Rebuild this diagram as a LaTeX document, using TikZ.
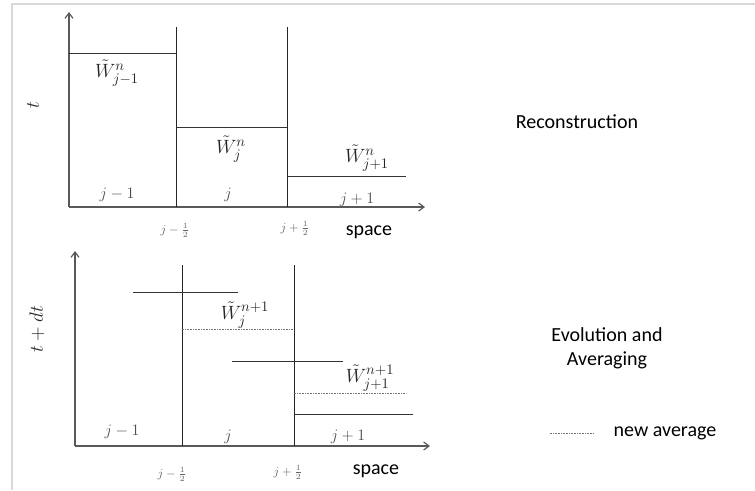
\documentclass[tikz,border=0pt]{standalone}
\usepackage{amsmath, amssymb}
\usepackage{fontspec}
\setmainfont{Carlito}
\usetikzlibrary{positioning, arrows.meta}

\begin{document}
\begin{tikzpicture}[x=0.75pt, y=-0.75pt, font=\fontsize{15}{18}\selectfont,
    axis/.style={draw=black!65, line width=0.9pt, -{Straight Barb[length=4pt, width=6pt]}},
    wall/.style={draw=black!85, line width=0.6pt},
    level/.style={draw=black!80, line width=0.6pt},
    avg/.style={draw=black!55, line width=0.6pt, dash pattern=on 1.2pt off 0.8pt},
    cellname/.style={font=\fontsize{11.5}{13}\selectfont, text=black!70},
    facename/.style={font=\fontsize{9}{10}\selectfont, text=black!60},
    wlabel/.style={font=\fontsize{15.5}{17}\selectfont, text=black!85}]
    \useasboundingbox (0,0) rectangle (755,490);
    % light frame round the figure
    \draw[black!15, line width=1.2pt] (12,490) -- (12,4) -- (755,4);

    % ---- Reconstruction ----
    \coordinate (o1) at (69,207);
    \coordinate (t1) at (69,12);
    \coordinate (s1) at (425,207);
    \draw[axis] (o1) -- (t1);
    \draw[axis] (o1) -- (s1);
    \draw[wall] (176,207) -- (176,27);
    \draw[wall] (287,207) -- (287,27);
    \draw[level] (69,53) -- (176,53);
    \draw[level] (176,127) -- (287,127);
    \draw[level] (287,176) -- (406,176);
    \node[wlabel] (wjm) at (117,73) {$\tilde{W}^{n}_{j-1}$};
    \node[wlabel] (wj) at (231,149) {$\tilde{W}^{n}_{j}$};
    \node[wlabel] (wjp) at (367,158) {$\tilde{W}^{n}_{j+1}$};
    \foreach \x/\y/\lab [count=\i] in {117/195/j-1, 228/195/j, 357/200/j+1}
        \node[cellname] (c1\i) at (\x,\y) {$\lab$};
    \node[facename] (f1a) at (175,230) {$j-\tfrac{1}{2}$};
    \node[facename] (f1b) at (295,228) {$j+\tfrac{1}{2}$};
    \node (sp1) at (369,232) {space};
    \node[rotate=90, wlabel] (tl1) at (33,105) {$t$};
    \node (rec) at (577,122) {Reconstruction};

    % ---- Evolution and averaging ----
    \coordinate (o2) at (75,446);
    \coordinate (t2) at (75,251);
    \coordinate (s2) at (430,446);
    \draw[axis] (o2) -- (t2);
    \draw[axis] (o2) -- (s2);
    \draw[wall] (182,446) -- (182,265);
    \draw[wall] (294,446) -- (294,265);
    \draw[level] (133,292) -- (238,292);
    \draw[avg] (182,329) -- (294,329);
    \draw[level] (232,361) -- (343,361);
    \draw[avg] (294,393) -- (406,393);
    \draw[level] (294,414) -- (413,414);
    \node[wlabel] (vj) at (245,315) {$\tilde{W}^{n+1}_{j}$};
    \node[wlabel] (vjp) at (370,378) {$\tilde{W}^{n+1}_{j+1}$};
    \foreach \x/\y/\lab [count=\i] in {122/432/j-1, 228/437/j, 348/437/j+1}
        \node[cellname] (c2\i) at (\x,\y) {$\lab$};
    \node[facename] (f2a) at (172,474) {$j-\tfrac{1}{2}$};
    \node[facename] (f2b) at (288,472) {$j+\tfrac{1}{2}$};
    \node (sp2) at (376,471) {space};
    \node[rotate=90, wlabel] (tl2) at (37,329) {$t+dt$};
    \node[align=center] (evo) at (607,348) {Evolution and\\Averaging};

    % legend
    \coordinate (ka) at (550,433);
    \coordinate (kb) at (593,433);
    \draw[avg] (ka) -- (kb);
    \node[right=12pt of kb] (key) {new average};
\end{tikzpicture}
\end{document}
